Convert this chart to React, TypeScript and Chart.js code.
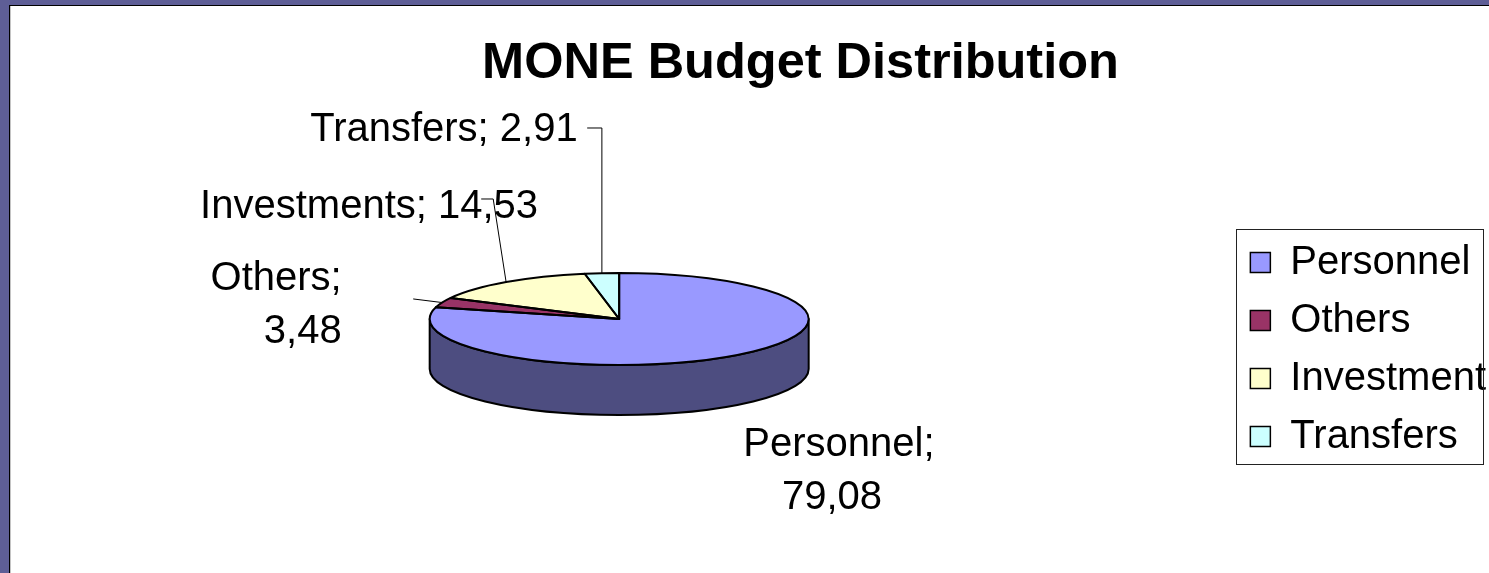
import React, { useEffect, useRef } from "react";
import { Chart, registerables } from "chart.js";

Chart.register(...registerables);

// ---- data ----
const CATEGORIES = ["Personnel", "Others", "Investment", "Transfers"];
const LABEL_NAMES = ["Personnel", "Others", "Investments", "Transfers"];
const VALUES = [79.08, 3.48, 14.53, 2.91];
const COLORS = ["#9999FF", "#993366", "#FFFFCC", "#CCFFFF"];
const TITLE = "MONE Budget Distribution";

// ---- style ----
const FONT = "'Liberation Sans', Arial, Helvetica, sans-serif";
const RADIUS = 189.5;
const TILT = 46 / 189.5;
const DEPTH = 50;
const LABEL_SIZE = 40;

const fmt = (v: number) => v.toFixed(2).replace(".", ",");

type LineSpec = { dx: number; dy: number; align: CanvasTextAlign };
type LabelSpec = { split: boolean; lines: LineSpec[]; leader: [number, number][] };

// label placement relative to the slice anchor (mid-angle point on the top rim)
const LABEL_LAYOUT: LabelSpec[] = [
  { split: true, lines: [{ dx: 104, dy: 88, align: "center" }, { dx: 97, dy: 141, align: "center" }], leader: [] },
  { split: true, lines: [{ dx: -100.5, dy: -25.6, align: "right" }, { dx: -100.5, dy: 27.4, align: "right" }], leader: [[-29, -3.6]] },
  { split: false, lines: [{ dx: -306, dy: -77, align: "left" }], leader: [[-12.9, -83.1], [-24.9, -83.1]] },
  { split: false, lines: [{ dx: -291.7, dy: -145.2, align: "left" }], leader: [[0, -145.2], [-14.7, -145.2]] },
];

const darken = (hex: string, f: number) => {
  const n = parseInt(hex.slice(1), 16);
  const r = Math.round(((n >> 16) & 255) * f);
  const g = Math.round(((n >> 8) & 255) * f);
  const b = Math.round((n & 255) * f);
  return `rgb(${r},${g},${b})`;
};

function frontSegments(s: number, e: number): [number, number][] {
  const out: [number, number][] = [];
  for (let k = -1; k <= 1; k++) {
    const lo = Math.max(s, 2 * Math.PI * k);
    const hi = Math.min(e, 2 * Math.PI * k + Math.PI);
    if (hi > lo) out.push([lo, hi]);
  }
  return out;
}

const pie3d = {
  id: "pie3d",
  beforeDatasetDraw(chart: any, args: any) {
    const arcs = args.meta.data as any[];
    if (!arcs.length) return;
    const { x: cx, y: cy, outerRadius: rx } = arcs[0];
    const ry = rx * TILT;
    const ctx: CanvasRenderingContext2D = chart.ctx;
    ctx.save();
    ctx.lineWidth = 2;
    ctx.strokeStyle = "#000";
    ctx.lineJoin = "round";
    arcs.forEach((arc, i) => {
      for (const [a, b] of frontSegments(arc.startAngle, arc.endAngle)) {
        ctx.beginPath();
        ctx.ellipse(cx, cy, rx, ry, 0, a, b);
        ctx.ellipse(cx, cy + DEPTH, rx, ry, 0, b, a, true);
        ctx.closePath();
        ctx.fillStyle = darken(COLORS[i], 0.5);
        ctx.fill();
        ctx.stroke();
      }
    });
    ctx.restore();
    ctx.save();
    ctx.translate(cx, cy);
    ctx.scale(1, TILT);
    ctx.translate(-cx, -cy);
  },
  afterDatasetDraw(chart: any, args: any) {
    const ctx: CanvasRenderingContext2D = chart.ctx;
    ctx.restore();
    const arcs = args.meta.data as any[];
    if (!arcs.length) return;
    const { x: cx, y: cy, outerRadius: rx } = arcs[0];
    const ry = rx * TILT;
    ctx.save();
    ctx.lineWidth = 2;
    ctx.strokeStyle = "#000";
    ctx.lineJoin = "round";
    arcs.forEach((arc) => {
      ctx.beginPath();
      ctx.moveTo(cx, cy);
      ctx.ellipse(cx, cy, rx, ry, 0, arc.startAngle, arc.endAngle);
      ctx.closePath();
      ctx.stroke();
    });
    ctx.restore();
  },
  afterDraw(chart: any) {
    const ctx: CanvasRenderingContext2D = chart.ctx;
    ctx.save();
    // title
    ctx.fillStyle = "#000";
    ctx.font = `bold 50.5px ${FONT}`;
    ctx.textAlign = "center";
    ctx.textBaseline = "middle";
    ctx.fillText(TITLE, 800.5, 64);

    // legend frame
    const hb = chart.legend?.legendHitBoxes as any[];
    if (hb && hb.length) {
      const l = Math.round(hb[0].left - 14) + 0.5;
      const t = Math.round(hb[0].top - 14) + 0.5;
      const r = Math.round(Math.max(...hb.map((h) => h.left + h.width)) - 3) + 0.5;
      const last = hb[hb.length - 1];
      const b = Math.round(last.top + last.height + 7) + 0.5;
      ctx.lineWidth = 1;
      ctx.strokeStyle = "#222";
      ctx.strokeRect(l, t, r - l, b - t);
    }

    // data labels
    const meta = chart.getDatasetMeta(0);
    const arcs = meta.data as any[];
    if (arcs.length) {
      const { x: cx, y: cy, outerRadius: rx } = arcs[0];
      const ry = rx * TILT;
      ctx.font = `${LABEL_SIZE}px ${FONT}`;
      ctx.textBaseline = "middle";
      arcs.forEach((arc, i) => {
        const spec = LABEL_LAYOUT[i];
        const mid = (arc.startAngle + arc.endAngle) / 2;
        const ax = cx + rx * Math.cos(mid);
        const ay = cy + ry * Math.sin(mid);
        if (spec.leader.length) {
          ctx.beginPath();
          ctx.moveTo(ax, ay);
          spec.leader.forEach(([dx, dy]) => ctx.lineTo(ax + dx, ay + dy));
          ctx.lineWidth = 1;
          ctx.strokeStyle = "#000";
          ctx.stroke();
        }
        const name = LABEL_NAMES[i];
        const val = fmt(VALUES[i]);
        const texts = spec.split ? [`${name};`, val] : [`${name}; ${val}`];
        texts.forEach((txt, j) => {
          const ln = spec.lines[j];
          ctx.textAlign = ln.align;
          ctx.fillStyle = "#000";
          ctx.fillText(txt, ax + ln.dx, ay + ln.dy + 2);
        });
      });
    }
    ctx.restore();
  },
};

export default function App() {
  const canvasRef = useRef<HTMLCanvasElement | null>(null);

  useEffect(() => {
    const canvas = canvasRef.current;
    if (!canvas) return;
    const baseGen = (Chart as any).overrides.doughnut.plugins.legend.labels.generateLabels;
    const chart = new Chart(canvas, {
      type: "pie",
      data: {
        labels: CATEGORIES,
        datasets: [
          {
            data: VALUES,
            backgroundColor: COLORS,
            borderColor: "#000",
            borderWidth: 0,
            radius: RADIUS,
            hoverOffset: 0,
            clip: false,
          } as any,
        ],
      },
      options: {
        responsive: true,
        maintainAspectRatio: false,
        animation: false,
        events: [],
        layout: { padding: { top: 163.5, bottom: 98.5, left: 6, right: 0 } },
        plugins: {
          title: { display: false },
          tooltip: { enabled: false },
          legend: {
            display: true,
            position: "right",
            align: "end",
            fullSize: true,
            labels: {
              boxWidth: 20,
              boxHeight: 20,
              padding: 18,
              color: "#000",
              font: { family: FONT, size: 40 },
              generateLabels: (c: any) =>
                baseGen(c).map((it: any) => ({ ...it, lineWidth: 1.5, strokeStyle: "#000" })),
            },
          },
        },
      } as any,
      plugins: [pie3d as any],
    });
    return () => chart.destroy();
  }, []);

  return (
    <div
      style={{
        position: "fixed",
        left: 0,
        top: 0,
        width: 1489,
        height: 573,
        overflow: "hidden",
        background: "#5E5E96",
      }}
    >
      <div
        style={{
          position: "absolute",
          left: 9,
          top: 5,
          right: 0,
          bottom: 0,
          background: "#fff",
          borderLeft: "1px solid #000",
          borderTop: "1px solid #000",
          boxShadow: "inset 1px 0 0 #c4c4c4",
        }}
      />
      <div style={{ position: "absolute", left: 0, top: 0, width: 1496, height: 573 }}>
        <canvas ref={canvasRef} />
      </div>
    </div>
  );
}
